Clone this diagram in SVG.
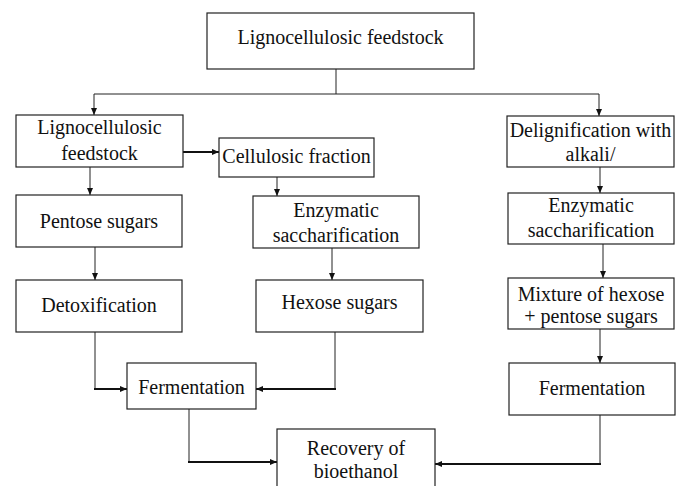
<svg xmlns="http://www.w3.org/2000/svg" width="678" height="486" viewBox="0 0 678 486">
<style>
.box{fill:#fff;stroke:#222;stroke-width:1.2}
.t{font-family:'Liberation Serif','Tinos','Times New Roman','DejaVu Serif',serif;font-size:20px;fill:#111;text-anchor:middle}
.c{fill:none;stroke:#222;stroke-width:1}
.ct{fill:none;stroke:#111;stroke-width:2}
</style>
<defs>
<marker id="ah" markerUnits="userSpaceOnUse" markerWidth="8" markerHeight="8" viewBox="0 0 8 8" refX="7" refY="4" orient="auto">
<path d="M0,1 L7,4 L0,7 Z" fill="#111"/>
</marker>
</defs>
<rect width="678" height="486" fill="#fff"/>
<g id="connectors">
<path class="c" d="M336,69 V94 M94,94 H599"/>
<path class="c" d="M94,94 V115" marker-end="url(#ah)"/>
<path class="c" d="M599,94 V116" marker-end="url(#ah)"/>
<path class="ct" d="M183,152 H219" marker-end="url(#ah)"/>
<path class="c" d="M90,167 V195" marker-end="url(#ah)"/>
<path class="c" d="M277,177 V196" marker-end="url(#ah)"/>
<path class="c" d="M600,167 V193" marker-end="url(#ah)"/>
<path class="c" d="M95,247 V280" marker-end="url(#ah)"/>
<path class="c" d="M332,248 V280" marker-end="url(#ah)"/>
<path class="c" d="M603,244 V278" marker-end="url(#ah)"/>
<path class="c" d="M600,329 V363" marker-end="url(#ah)"/>
<path class="c" d="M95,332 V389"/>
<path class="ct" d="M94,389 H127" marker-end="url(#ah)"/>
<path class="c" d="M335,332 V389"/>
<path class="ct" d="M336,389 H256" marker-end="url(#ah)"/>
<path class="c" d="M189,409 V462"/>
<path class="ct" d="M188,462 H277" marker-end="url(#ah)"/>
<path class="c" d="M600,415 V464"/>
<path class="ct" d="M601,464 H435" marker-end="url(#ah)"/>
</g>
<g id="n-top" font-family="Liberation Serif, serif"><rect class="box" x="207" y="13" width="267" height="56"/><text class="t" x="340.5" y="44">Lignocellulosic feedstock</text></g>
<g id="n-feed"><rect class="box" x="16" y="115" width="167" height="52"/><text class="t" x="99.5" y="134">Lignocellulosic</text><text class="t" x="99.5" y="160">feedstock</text></g>
<g id="n-cell"><rect class="box" x="219" y="138" width="155" height="39"/><text class="t" x="296.5" y="163">Cellulosic fraction</text></g>
<g id="n-delig"><rect class="box" x="507" y="116" width="167" height="51"/><text class="t" x="590.5" y="137">Delignification with</text><text class="t" x="590.5" y="161">alkali/</text></g>
<g id="n-pent"><rect class="box" x="16" y="195" width="166" height="52"/><text class="t" x="99" y="228">Pentose sugars</text></g>
<g id="n-enz1"><rect class="box" x="253" y="196" width="166" height="52"/><text class="t" x="336" y="217">Enzymatic</text><text class="t" x="336" y="242">saccharification</text></g>
<g id="n-enz2"><rect class="box" x="508" y="193" width="166" height="51"/><text class="t" x="591" y="212">Enzymatic</text><text class="t" x="591" y="237">saccharification</text></g>
<g id="n-detox"><rect class="box" x="16" y="280" width="166" height="52"/><text class="t" x="99" y="312">Detoxification</text></g>
<g id="n-hex"><rect class="box" x="256" y="280" width="167" height="52"/><text class="t" x="339.5" y="309">Hexose sugars</text></g>
<g id="n-mix"><rect class="box" x="508" y="278" width="166" height="51"/><text class="t" x="591" y="301">Mixture of hexose</text><text class="t" x="591" y="323">+ pentose sugars</text></g>
<g id="n-ferm1"><rect class="box" x="127" y="363" width="129" height="46"/><text class="t" x="191.5" y="394">Fermentation</text></g>
<g id="n-ferm2"><rect class="box" x="509" y="363" width="166" height="52"/><text class="t" x="592" y="395">Fermentation</text></g>
<g id="n-rec"><rect class="box" x="277" y="429" width="158" height="70"/><text class="t" x="356" y="455">Recovery of</text><text class="t" x="356" y="478">bioethanol</text></g>
</svg>
